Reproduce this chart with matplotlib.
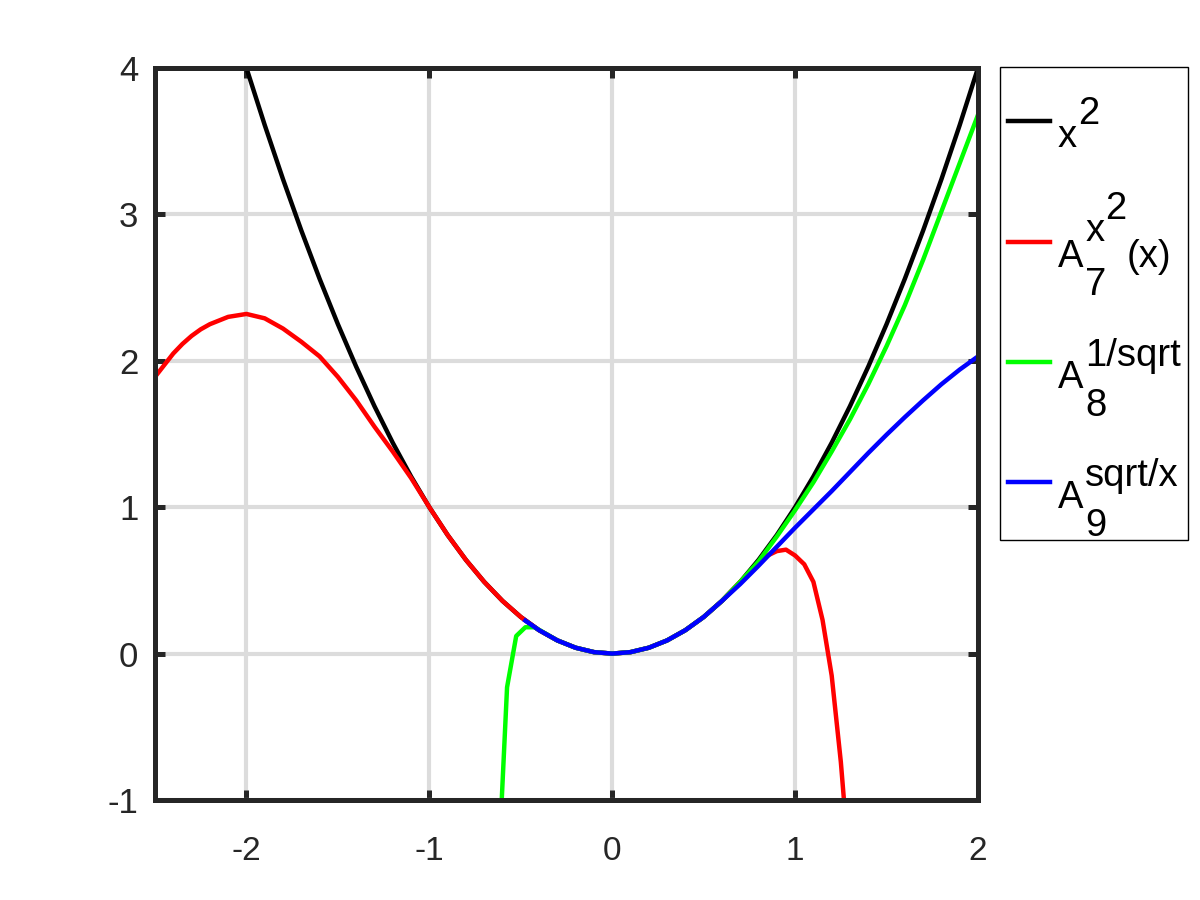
import numpy as np
import matplotlib
matplotlib.use('Agg')
import matplotlib.pyplot as plt
from matplotlib.patches import Rectangle
from matplotlib.text import Annotation

plt.rcParams['font.family'] = ['Liberation Sans', 'DejaVu Sans']
plt.rcParams['axes.unicode_minus'] = False

# values
x_black = [-2.0, -1.9, -1.8, -1.7, -1.6, -1.5, -1.4, -1.3, -1.2, -1.1, -1.0,
           -0.9, -0.8, -0.7, -0.6, -0.5, -0.4, -0.3, -0.2, -0.1, 0.0,
           0.1, 0.2, 0.3, 0.4, 0.5, 0.6, 0.7, 0.8, 0.9, 1.0,
           1.1, 1.2, 1.3, 1.4, 1.5, 1.6, 1.7, 1.8, 1.9, 2.0]
y_black = [4.00, 3.61, 3.24, 2.89, 2.56, 2.25, 1.96, 1.69, 1.44, 1.21, 1.00,
           0.81, 0.64, 0.49, 0.36, 0.25, 0.16, 0.09, 0.04, 0.01, 0.00,
           0.01, 0.04, 0.09, 0.16, 0.25, 0.36, 0.49, 0.64, 0.81, 1.00,
           1.21, 1.44, 1.69, 1.96, 2.25, 2.56, 2.89, 3.24, 3.61, 4.00]

x_red = [-2.5, -2.45, -2.4, -2.35, -2.3, -2.25, -2.2, -2.1, -2.0, -1.9, -1.8, -1.7, -1.6, -1.5,
         -1.4, -1.3, -1.2, -1.1, -1.0, -0.9, -0.8, -0.7, -0.6, -0.5,
         -0.4, -0.3, -0.2, -0.1, 0.0, 0.1, 0.2, 0.3, 0.4, 0.5, 0.6, 0.7, 0.8,
         0.85, 0.9, 0.95, 1.0, 1.05, 1.1, 1.15, 1.2, 1.25, 1.3]
y_red = [1.89, 1.97, 2.05, 2.115, 2.17, 2.215, 2.25, 2.30, 2.32, 2.29, 2.22, 2.13, 2.03, 1.89,
         1.73, 1.55, 1.38, 1.20, 1.00, 0.81, 0.64, 0.49, 0.36, 0.25,
         0.16, 0.09, 0.04, 0.01, 0.00, 0.01, 0.04, 0.09, 0.16, 0.25, 0.36, 0.49, 0.62,
         0.67, 0.70, 0.71, 0.67, 0.61, 0.49, 0.23, -0.15, -0.74, -1.5]

x_green = [-0.625, -0.575, -0.525, -0.475, -0.425, -0.3, -0.2, -0.1, 0.0,
           0.1, 0.2, 0.3, 0.4, 0.5, 0.6, 0.7, 0.8, 0.9, 1.0,
           1.1, 1.2, 1.3, 1.4, 1.5, 1.6, 1.7, 1.8, 1.9, 2.0]
y_green = [-1.55, -0.23, 0.12, 0.18, 0.18, 0.09, 0.04, 0.01, 0.00,
           0.01, 0.04, 0.09, 0.16, 0.25, 0.36, 0.49, 0.63, 0.80, 0.98,
           1.17, 1.38, 1.60, 1.84, 2.10, 2.38, 2.69, 3.02, 3.35, 3.68]

x_blue = [-0.475, -0.4, -0.3, -0.2, -0.1, 0.0, 0.1, 0.2, 0.3, 0.4, 0.5,
          0.6, 0.7, 0.8, 0.9, 1.0, 1.1, 1.2, 1.3, 1.4, 1.5,
          1.6, 1.7, 1.8, 1.9, 2.0]
y_blue = [0.225, 0.16, 0.09, 0.04, 0.01, 0.00, 0.01, 0.04, 0.09, 0.16, 0.25,
          0.36, 0.475, 0.60, 0.73, 0.86, 0.985, 1.11, 1.24, 1.37, 1.495,
          1.615, 1.73, 1.84, 1.94, 2.03]

# legend labels: base text, then (text, dx px, baseline shift px) pieces
base_labels = ['x', 'A', 'A', 'A']
label_parts = [
    [('2', 1, 23)],
    [('7', 2, -28), ('x', 2, 26), ('2', 22, 48), ('(x)', 43, 0)],
    [('8', 2, -28), ('1/sqrt', 2, 22)],
    [('9', 2, -28), ('sqrt/x', 2, 22)],
]
dark = '#262626'
px = 72 / 100  # pixels -> points

fig = plt.figure(figsize=(12, 9), dpi=100)
ax = fig.add_axes([155/1200, 1 - 800/900, 823/1200, 732/900])

lw = 3.2
h1, = ax.plot(x_black, y_black, color='k', lw=lw)
h2, = ax.plot(x_red, y_red, color='#ff0000', lw=lw)
h3, = ax.plot(x_green, y_green, color='#00ff00', lw=lw)
h4, = ax.plot(x_blue, y_blue, color='#0000ff', lw=lw)

ax.set_xlim(-2.5, 2)
ax.set_ylim(-1, 4)
ax.set_xticks([-2, -1, 0, 1, 2])
ax.set_yticks([-1, 0, 1, 2, 3, 4])
ax.grid(True, color='#dcdcdc', lw=3)
ax.set_axisbelow(True)
for s in ax.spines.values():
    s.set_linewidth(3.6)
    s.set_color(dark)
ax.tick_params(direction='in', length=7, width=3.6, color=dark, labelcolor=dark,
               labelsize=24, top=True, right=True)
ax.tick_params(axis='x', pad=26)
ax.tick_params(axis='y', pad=12, labelsize=25)

# legend frame
fig.add_artist(Rectangle((1000/1200, 1 - 540/900), 188/1200, 473/900,
                         transform=fig.transFigure, fill=False,
                         edgecolor='k', lw=1.0))

fs = 27.5
leg = fig.legend([h1, h2, h3, h4], base_labels, loc='center left',
                 bbox_to_anchor=(1008/1200, 1 - 316/900), fontsize=fs,
                 frameon=False, handlelength=1.1, handleheight=2.81,
                 handletextpad=0.2, labelspacing=1.08, borderpad=0,
                 borderaxespad=0)

fs_px = fs / px
descent = 0.21 * fs_px
for t, parts in zip(leg.get_texts(), label_parts):
    for txt, dx, dy in parts:
        a = Annotation(txt, xy=(1, 0), xycoords=t,
                       xytext=(dx * px, (dy + descent) * px),
                       textcoords='offset points', fontsize=fs,
                       va='baseline', ha='left', zorder=6)
        fig.add_artist(a)

fig.canvas.draw()
fig.savefig('out.png', dpi=100)
